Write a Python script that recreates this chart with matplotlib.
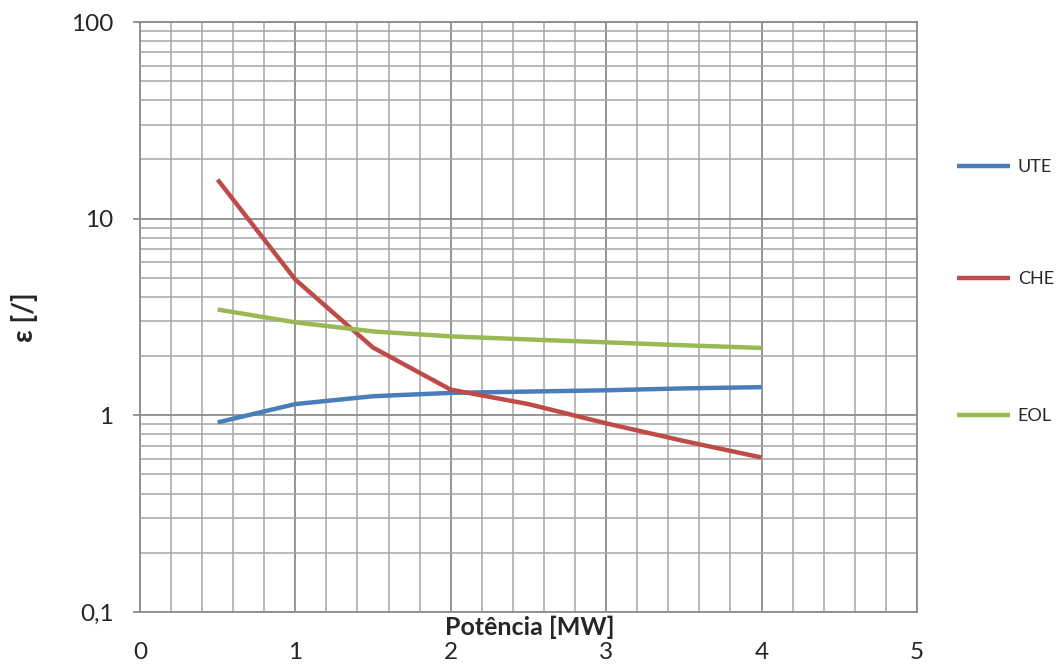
import matplotlib
matplotlib.use("Agg")
import matplotlib.pyplot as plt
from matplotlib.ticker import FixedLocator, MultipleLocator, NullFormatter, LogLocator

plt.rcParams['font.family'] = ['Lato', 'DejaVu Sans']

# Potência [MW]
potencia = [0.5, 1.0, 1.5, 2.0, 2.5, 3.0, 3.5, 4.0]
ute = [0.92, 1.14, 1.25, 1.30, 1.32, 1.34, 1.37, 1.39]
che = [15.8, 4.90, 2.21, 1.35, 1.14, 0.91, 0.74, 0.61]
eol = [3.45, 2.97, 2.67, 2.52, 2.43, 2.35, 2.27, 2.20]

series = [("UTE", ute, "#4A7EBB"), ("CHE", che, "#BE4B48"), ("EOL", eol, "#98B954")]
y_ticks = [0.1, 1, 10, 100]
y_labels = ["0,1", "1", "10", "100"]

fig = plt.figure(figsize=(10.6, 6.68), dpi=100)
ax = fig.add_axes([0.132, 0.084, 0.733, 0.883])

lines = []
for nome, vals, cor in series:
    ln, = ax.plot(potencia, vals, color=cor, lw=3.2, solid_capstyle='butt', label=nome, zorder=3)
    lines.append(ln)

ax.set_yscale('log')
ax.set_ylim(0.1, 100)
ax.set_xlim(0, 5)

ax.yaxis.set_major_locator(FixedLocator(y_ticks))
ax.set_yticklabels(y_labels)
ax.yaxis.set_minor_locator(LogLocator(base=10, subs=range(2, 10)))
ax.yaxis.set_minor_formatter(NullFormatter())
ax.xaxis.set_major_locator(MultipleLocator(1))
ax.xaxis.set_minor_locator(MultipleLocator(0.2))

ax.grid(which='major', color='#8c8c8c', lw=1.3)
ax.grid(which='minor', color='#a6a6a6', lw=1.1)
ax.set_axisbelow(True)

for s in ax.spines.values():
    s.set_color('#8c8c8c')
    s.set_linewidth(1.3)

ax.tick_params(axis='y', which='major', length=5, width=1.3, color='#8c8c8c',
               pad=14, labelsize=17.5, labelcolor='#262626')
ax.tick_params(axis='y', which='minor', length=0)
ax.tick_params(axis='x', which='both', length=0, pad=22, labelsize=17.5, labelcolor='#262626')

ax.set_xlabel("Potência [MW]", fontsize=18, fontweight='bold', color='#262626')
ax.xaxis.set_label_coords(0.502, -0.006)
ax.set_ylabel("ε [/]", fontsize=20, fontweight='bold', color='#262626', va='center')
ax.yaxis.set_label_coords(-0.148, 0.5)

# legenda à direita, uma entrada por série
leg_y = [0.75, 0.582, 0.377]
for ln, yy in zip(lines, leg_y):
    lg = fig.legend(handles=[ln], loc='center left', bbox_to_anchor=(0.903, yy),
                    frameon=False, fontsize=13, handlelength=2.9, handletextpad=0.45,
                    borderaxespad=0, borderpad=0)
    for t in lg.get_texts():
        t.set_color('#262626')

fig.savefig("out.png", dpi=100)
